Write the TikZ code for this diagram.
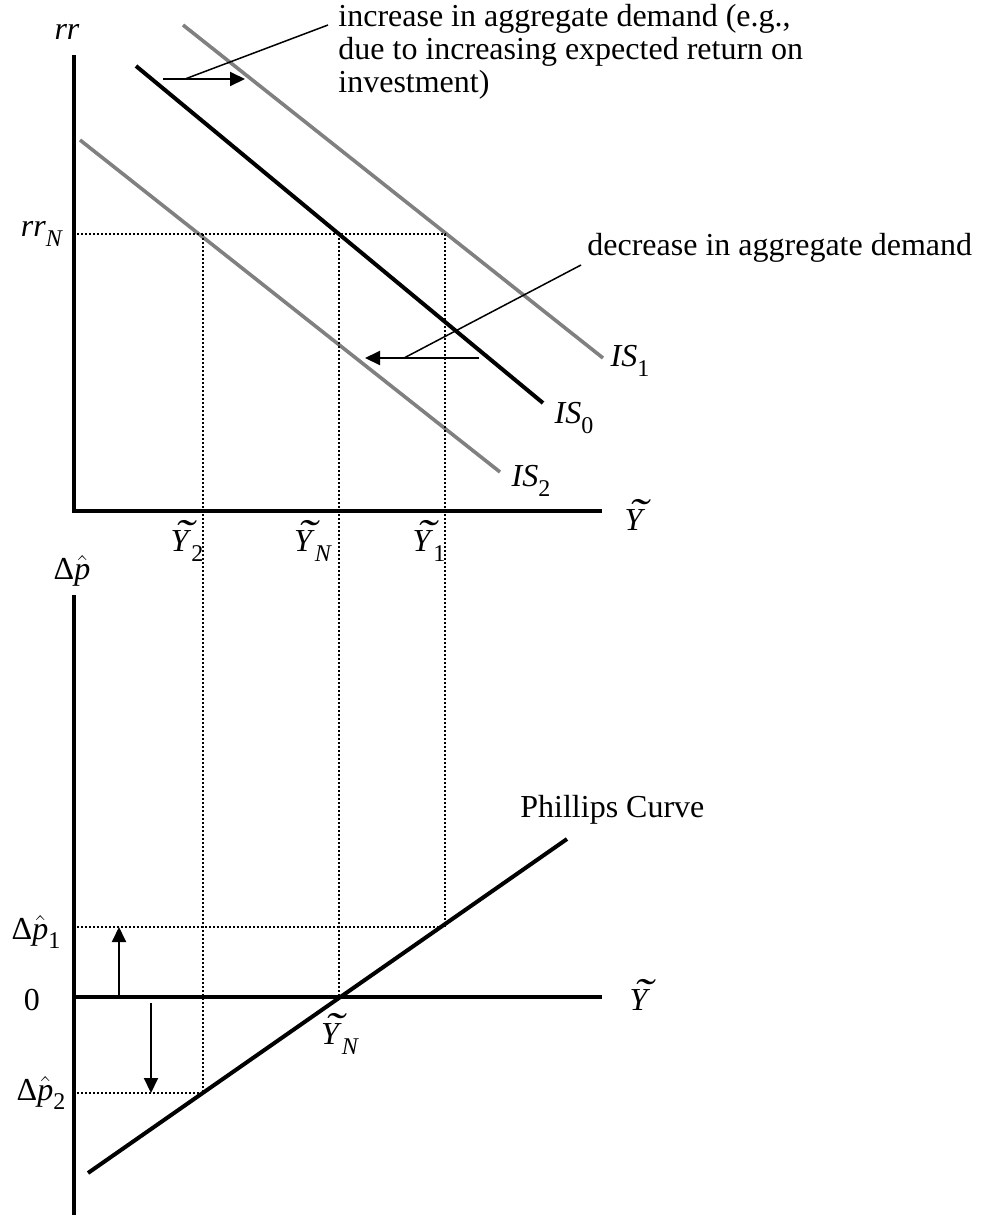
\documentclass[tikz,border=0pt]{standalone}
\usepackage{fontspec}
\setmainfont{Liberation Serif}
\usetikzlibrary{arrows.meta}
\newcommand{\sbs}[1]{\raisebox{-0.3em}{\fontsize{12}{12}\selectfont #1}}
\newcommand{\Yt}{\textit{\rlap{\hspace{0.12em}\raisebox{0.1em}{\scalebox{1.8}[1.3]{\char"02DC}}}Y}}
\newcommand{\dph}{Δ$\hat{\hbox{\textit{p}}}$}
\begin{document}
\begin{tikzpicture}[x=0.5pt,y=-0.5pt,
  axisline/.style={line width=2pt, line join=miter},
  isblack/.style={line width=2pt},
  isgray/.style={line width=1.8pt, draw=gray},
  guide/.style={line width=1pt, dash pattern=on 1pt off 1pt},
  pointer/.style={line width=0.75pt},
  movearrow/.style={line width=1pt, -{Triangle[length=7.5pt,width=7pt]}},
  lbl/.style={font=\fontsize{16}{16.35}\selectfont, inner sep=0pt}]
\useasboundingbox (0,0) rectangle (991,1217);

% ---------- top panel ----------
\coordinate (tTop) at (74,55);
\coordinate (tO) at (74,511);
\coordinate (tEnd) at (602,511);
\draw[axisline] (tTop) -- (tO) -- (tEnd);

\coordinate (is1a) at (183,25);  \coordinate (is1b) at (603,358);
\coordinate (is0a) at (136,66);  \coordinate (is0b) at (543,403);
\coordinate (is2a) at (80,140);  \coordinate (is2b) at (500,472);
\draw[isgray] (is1a) -- (is1b);
\draw[isblack] (is0a) -- (is0b);
\draw[isgray] (is2a) -- (is2b);

\node[lbl] (lIS1) at (630,361) {\textit{IS}\sbs{1}};
\node[lbl] (lIS0) at (574,418) {\textit{IS}\sbs{0}};
\node[lbl] (lIS2) at (531,481) {\textit{IS}\sbs{2}};

\node[lbl] (lrr) at (67,32) {\textit{rr}};
\node[lbl] (lrrN) at (42,234) {\textit{rr}\sbs{\textit{N}}};
\node[lbl] (lYtop) at (635,515) {\Yt};

% dotted guides
\coordinate (gR0) at (77,234);
\coordinate (gR1) at (446,234);
\draw[guide] (gR0) -- (gR1);
\coordinate (v2a) at (203,234); \coordinate (v2b) at (203,1093);
\coordinate (vNa) at (339,234); \coordinate (vNb) at (339,997);
\coordinate (v1a) at (445,234); \coordinate (v1b) at (445,927);
\draw[guide] (v2a) -- (v2b);
\draw[guide] (vNa) -- (vNb);
\draw[guide] (v1a) -- (v1b);

\node[lbl] (lY2) at (187,541) {\Yt\sbs{2}};
\node[lbl] (lYN) at (313,541) {\Yt\sbs{\textit{N}}};
\node[lbl] (lY1) at (429,541) {\Yt\sbs{1}};

% increase annotation
\node[lbl, anchor=base west, align=left] (incr) at (338,92)
  {increase in aggregate demand (e.g.,\\due to increasing expected return on\\investment)};
\coordinate (incA) at (328,25);
\coordinate (incJ) at (185,79);
\coordinate (incS) at (163,79);
\coordinate (incT) at (245,79);
\draw[movearrow] (incS) -- (incT);
\draw[pointer] (incA) -- (incJ);

% decrease annotation
\node[lbl, anchor=base west] (decr) at (587,255) {decrease in aggregate demand};
\coordinate (decA) at (581,265);
\coordinate (decJ) at (404,358);
\coordinate (decS) at (479,358);
\coordinate (decT) at (365,358);
\draw[movearrow] (decS) -- (decT);
\draw[pointer] (decA) -- (decJ);

% ---------- bottom panel ----------
\coordinate (bTop) at (74,595);
\coordinate (bBot) at (74,1215);
\coordinate (bO) at (74,997);
\coordinate (bEnd) at (602,997);
\draw[axisline] (bTop) -- (bBot);
\draw[axisline] (bO) -- (bEnd);

\coordinate (pcA) at (88,1173);
\coordinate (pcB) at (567,839);
\draw[isblack] (pcA) -- (pcB);
\node[lbl, anchor=base west] (lPC) at (520,817) {Phillips Curve};

\node[lbl] (ldp) at (72,571) {\dph};
\node[lbl] (ldp1) at (36,932) {\dph\sbs{1}};
\node[lbl] (lzero) at (32,1000) {0};
\node[lbl] (ldp2) at (41,1093) {\dph\sbs{2}};
\node[lbl] (lYbot) at (640,995) {\Yt};
\node[lbl] (lYNb) at (340,1034) {\Yt\sbs{\textit{N}}};

\coordinate (p1a) at (77,927);
\coordinate (p1b) at (445,927);
\coordinate (p2a) at (77,1093);
\coordinate (p2b) at (203,1093);
\draw[guide] (p1a) -- (p1b);
\draw[guide] (p2a) -- (p2b);

\coordinate (upS) at (119,997);
\coordinate (upT) at (119,927);
\coordinate (dnS) at (151,1003);
\coordinate (dnT) at (151,1093);
\draw[movearrow] (upS) -- (upT);
\draw[movearrow] (dnS) -- (dnT);
\end{tikzpicture}
\end{document}
